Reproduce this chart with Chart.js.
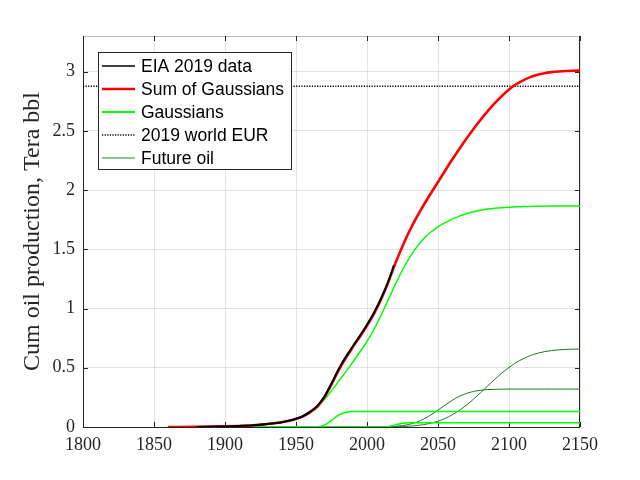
<!DOCTYPE html>
<html>
<head>
<meta charset="utf-8">
<script src="https://cdn.jsdelivr.net/npm/chart.js@4.4.1/dist/chart.umd.min.js"></script>
<style>
html, body { margin: 0; padding: 0; background: #fff; }
#wrap { width: 640px; height: 480px; }
</style>
</head>
<body>
<div id="wrap"><canvas id="cum-chart" width="640" height="480"></canvas></div>
<script>
// years for the fitted curves
var years = [1860, 1880, 1900, 1910, 1920, 1930, 1940, 1945, 1950, 1955, 1960, 1965, 1970, 1975, 1980, 1985,
  1990, 1995, 2000, 2005, 2010, 2015, 2020, 2025, 2030, 2035, 2040, 2045, 2050, 2055, 2060, 2065, 2070,
  2075, 2080, 2085, 2090, 2095, 2100, 2105, 2110, 2115, 2120, 2125, 2130, 2135, 2140, 2145, 2150];

// EIA 2019 cumulative production (Tera bbl)
var eiaYears = [1880, 1890, 1900, 1910, 1920, 1930, 1940, 1945, 1950, 1955, 1960, 1965, 1970, 1975, 1980,
  1985, 1990, 1995, 2000, 2005, 2010, 2015, 2019];
var eiaCum = [0.000, 0.002, 0.005, 0.009, 0.015, 0.026, 0.041, 0.053, 0.070, 0.093, 0.130, 0.178, 0.258,
  0.368, 0.487, 0.590, 0.682, 0.770, 0.863, 0.966, 1.088, 1.228, 1.366];

// sum of gaussians
var sumGauss = [0.000, 0.001, 0.005, 0.009, 0.015, 0.025, 0.040, 0.052, 0.068, 0.090, 0.125, 0.172, 0.252,
  0.360, 0.478, 0.582, 0.674, 0.762, 0.855, 0.958, 1.080, 1.224, 1.383, 1.526, 1.656, 1.771, 1.875, 1.973,
  2.068, 2.163, 2.257, 2.347, 2.433, 2.515, 2.593, 2.666, 2.733, 2.794, 2.848, 2.893, 2.926, 2.953, 2.972,
  2.986, 2.995, 3.001, 3.005, 3.007, 3.008];

// individual gaussians (cumulative)
var gaussMain = [0.000, 0.001, 0.005, 0.009, 0.015, 0.025, 0.040, 0.052, 0.068, 0.090, 0.125, 0.168, 0.232,
  0.305, 0.385, 0.465, 0.548, 0.633, 0.723, 0.825, 0.945, 1.075, 1.205, 1.325, 1.430, 1.518, 1.590, 1.646,
  1.690, 1.725, 1.755, 1.780, 1.800, 1.816, 1.829, 1.839, 1.846, 1.851, 1.855, 1.858, 1.860, 1.862, 1.863,
  1.864, 1.865, 1.865, 1.865, 1.865, 1.865];
var gaussSmall1 = [0, 0, 0, 0, 0, 0, 0, 0, 0, 0, 0, 0.002, 0.016, 0.056, 0.100, 0.124, 0.130, 0.130, 0.130,
  0.130, 0.130, 0.130, 0.130, 0.130, 0.130, 0.130, 0.130, 0.130, 0.130, 0.130, 0.130, 0.130, 0.130, 0.130,
  0.130, 0.130, 0.130, 0.130, 0.130, 0.130, 0.130, 0.130, 0.130, 0.130, 0.130, 0.130, 0.130, 0.130, 0.130];
var gaussSmall2 = [0, 0, 0, 0, 0, 0, 0, 0, 0, 0, 0, 0, 0, 0, 0, 0, 0, 0, 0, 0, 0, 0.003, 0.018, 0.032, 0.035,
  0.035, 0.035, 0.035, 0.035, 0.035, 0.035, 0.035, 0.035, 0.035, 0.035, 0.035, 0.035, 0.035, 0.035, 0.035,
  0.035, 0.035, 0.035, 0.035, 0.035, 0.035, 0.035, 0.035, 0.035];

// future oil
var future1 = [0, 0, 0, 0, 0, 0, 0, 0, 0, 0, 0, 0, 0, 0, 0, 0, 0, 0, 0, 0, 0, 0.002, 0.005, 0.012, 0.023,
  0.041, 0.068, 0.102, 0.143, 0.185, 0.225, 0.259, 0.283, 0.300, 0.310, 0.316, 0.318, 0.319, 0.320, 0.320,
  0.320, 0.320, 0.320, 0.320, 0.320, 0.320, 0.320, 0.320, 0.320];
var future2 = [0, 0, 0, 0, 0, 0, 0, 0, 0, 0, 0, 0, 0, 0, 0, 0, 0, 0, 0, 0, 0, 0, 0.002, 0.004, 0.007, 0.012,
  0.020, 0.032, 0.049, 0.072, 0.103, 0.140, 0.185, 0.235, 0.290, 0.347, 0.403, 0.456, 0.502, 0.544, 0.576,
  0.603, 0.622, 0.636, 0.645, 0.651, 0.655, 0.657, 0.658];

var eurValue = 2.876;
var xTicks = [1800, 1850, 1900, 1950, 2000, 2050, 2100, 2150];
var yTicks = [0, 0.5, 1, 1.5, 2, 2.5, 3];
var legendLabels = ['EIA 2019 data', 'Sum of Gaussians', 'Gaussians', '2019 world EUR', 'Future oil'];

function pts(xs, ys) {
  return xs.map(function (x, i) { return { x: x, y: ys[i] }; });
}

function curve(label, xs, ys, color, width) {
  return {
    label: label,
    data: pts(xs, ys),
    borderColor: color,
    borderWidth: width,
    pointRadius: 0,
    fill: false,
    cubicInterpolationMode: 'monotone'
  };
}

var axisColor = '#262626';

// legend box in the top left corner of the plot
var legendStyles = [
  { color: '#000000', width: 1.5, dash: [] },
  { color: '#ff0000', width: 2.5, dash: [] },
  { color: '#00ff00', width: 2, dash: [] },
  { color: '#000000', width: 1.5, dash: [1.2, 1.4] },
  { color: '#92c592', width: 2, dash: [] }
];
var boxLegend = {
  id: 'boxLegend',
  afterDraw: function (chart) {
    var ctx = chart.ctx, a = chart.chartArea;
    var x0 = a.left + 15, y0 = a.top + 16, w = 193, h = 117, rowH = 23;
    ctx.save();
    ctx.fillStyle = '#ffffff';
    ctx.fillRect(x0, y0, w, h);
    ctx.strokeStyle = axisColor;
    ctx.lineWidth = 1;
    ctx.strokeRect(x0 + 0.5, y0 + 0.5, w, h);
    ctx.font = '17.5px "Liberation Sans", Arial, sans-serif';
    ctx.textBaseline = 'middle';
    ctx.fillStyle = '#000';
    legendLabels.forEach(function (txt, i) {
      var yy = y0 + 14 + i * rowH;
      var s = legendStyles[i];
      ctx.beginPath();
      ctx.setLineDash(s.dash);
      ctx.strokeStyle = s.color;
      ctx.lineWidth = s.width;
      ctx.moveTo(x0 + 4, yy);
      ctx.lineTo(x0 + 37, yy);
      ctx.stroke();
      ctx.setLineDash([]);
      ctx.fillText(txt, x0 + 43, yy + 1);
    });
    ctx.restore();
  }
};

// axes box with inward ticks
var axesBox = {
  id: 'axesBox',
  beforeDatasetsDraw: function (chart) {
    var ctx = chart.ctx, a = chart.chartArea;
    var xs = chart.scales.x, ys = chart.scales.y;
    ctx.save();
    ctx.lineWidth = 1;
    ctx.strokeStyle = '#bdbdbd';
    ctx.beginPath();
    ctx.moveTo(a.left, a.top + 0.5);
    ctx.lineTo(a.right, a.top + 0.5);
    ctx.stroke();
    ctx.strokeStyle = axisColor;
    ctx.beginPath();
    ctx.moveTo(a.left + 0.5, a.top);
    ctx.lineTo(a.left + 0.5, a.bottom + 0.5);
    ctx.lineTo(a.right - 0.5, a.bottom + 0.5);
    ctx.lineTo(a.right - 0.5, a.top);
    xTicks.forEach(function (v) {
      var px = Math.round(xs.getPixelForValue(v)) + 0.5;
      ctx.moveTo(px, a.bottom);
      ctx.lineTo(px, a.bottom - 5);
      ctx.moveTo(px, a.top);
      ctx.lineTo(px, a.top + 5);
    });
    yTicks.forEach(function (v) {
      var py = Math.round(ys.getPixelForValue(v)) + 0.5;
      ctx.moveTo(a.left, py);
      ctx.lineTo(a.left + 5, py);
      ctx.moveTo(a.right, py);
      ctx.lineTo(a.right - 5, py);
    });
    ctx.stroke();
    ctx.restore();
  }
};

var ctx = document.getElementById('cum-chart').getContext('2d');
var chart = new Chart(ctx, {
  type: 'line',
  data: {
    datasets: [
      curve(legendLabels[0], eiaYears, eiaCum, '#000000', 2),
      curve(legendLabels[1], years, sumGauss, '#ff0000', 2.6),
      curve(legendLabels[2], years, gaussMain, '#00ff00', 1.5),
      curve(legendLabels[2], years, gaussSmall1, '#00ff00', 1.5),
      curve(legendLabels[2], years, gaussSmall2, '#00ff00', 1.5),
      {
        label: legendLabels[3],
        data: pts([1800, 2150], [eurValue, eurValue]),
        borderColor: '#000000',
        borderWidth: 1.5,
        borderDash: [1.2, 1.4],
        pointRadius: 0,
        fill: false
      },
      curve(legendLabels[4], years, future1, '#1f7a1f', 1),
      curve(legendLabels[4], years, future2, '#1f7a1f', 1)
    ]
  },
  options: {
    responsive: false,
    animation: false,
    layout: { padding: { top: 36, right: 60, left: 0, bottom: 0 } },
    plugins: {
      legend: { display: false },
      tooltip: { enabled: false }
    },
    scales: {
      x: {
        type: 'linear',
        min: 1800,
        max: 2150,
        afterBuildTicks: function (s) { s.ticks = xTicks.map(function (v) { return { value: v }; }); },
        afterFit: function (s) { s.height = 53; },
        ticks: {
          callback: function (v) { return String(v); },
          font: { family: '"Liberation Serif", serif', size: 18 },
          color: axisColor,
          padding: 7,
          maxRotation: 0,
          autoSkip: false
        },
        grid: { color: 'rgba(0,0,0,0.11)', drawTicks: false },
        border: { display: false }
      },
      y: {
        min: 0,
        max: 3.3,
        afterBuildTicks: function (s) { s.ticks = yTicks.map(function (v) { return { value: v }; }); },
        afterFit: function (s) { s.width = 83; },
        ticks: {
          callback: function (v) { return String(v); },
          font: { family: '"Liberation Serif", serif', size: 18 },
          color: axisColor,
          padding: 8
        },
        grid: { color: 'rgba(0,0,0,0.11)', drawTicks: false },
        border: { display: false },
        title: {
          display: true,
          text: 'Cum oil production, Tera bbl',
          font: { family: '"Liberation Serif", serif', size: 24 },
          color: axisColor,
          padding: { top: 18, bottom: 0 }
        }
      }
    }
  },
  plugins: [axesBox, boxLegend]
});
</script>
</body>
</html>
